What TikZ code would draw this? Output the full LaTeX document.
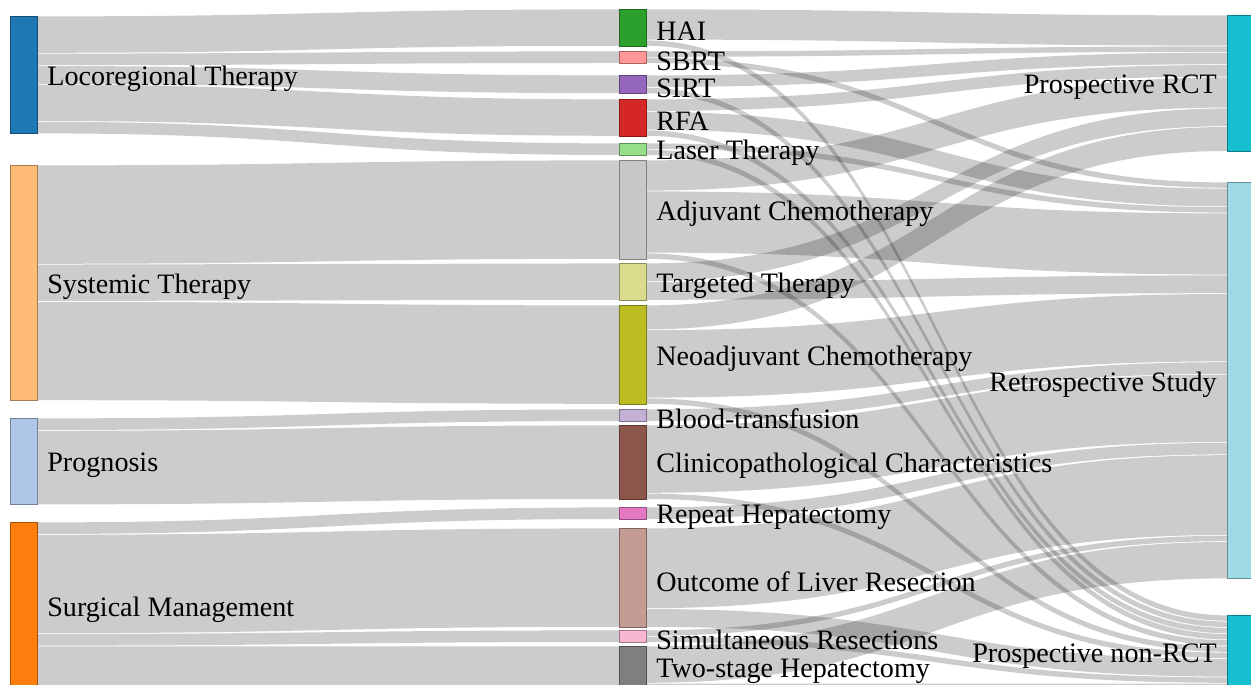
\documentclass[tikz,border=0pt]{standalone}
\usepackage{fontspec}
\setmainfont{Liberation Serif}
\usetikzlibrary{positioning, calc}

\definecolor{locoC}{HTML}{1F77B4}
\definecolor{systC}{HTML}{FFBB78}
\definecolor{prognC}{HTML}{AEC7E8}
\definecolor{surgC}{HTML}{FF7F0E}
\definecolor{haiC}{HTML}{2CA02C}
\definecolor{sbrtC}{HTML}{FF9896}
\definecolor{sirtC}{HTML}{9467BD}
\definecolor{rfaC}{HTML}{D62728}
\definecolor{laserC}{HTML}{98DF8A}
\definecolor{adjC}{HTML}{C7C7C7}
\definecolor{targC}{HTML}{DBDB8D}
\definecolor{neoC}{HTML}{BCBD22}
\definecolor{bloodC}{HTML}{C5B0D5}
\definecolor{clinC}{HTML}{8C564B}
\definecolor{repC}{HTML}{E377C2}
\definecolor{outcC}{HTML}{C49C94}
\definecolor{simulC}{HTML}{F7B6D2}
\definecolor{twostC}{HTML}{7F7F7F}
\definecolor{rctC}{HTML}{17BECF}
\definecolor{retroC}{HTML}{9EDAE5}

\pgfdeclarelayer{bg}
\pgfsetlayers{bg,main}

% source, offset, target, offset, width (in study counts)
\newcommand{\flow}[5]{%
  \begin{pgfonlayer}{bg}
  \coordinate (s0) at ($(#1.north east)+(0,{#2*6.2+0.4})$);
  \coordinate (s1) at ($(#1.north east)+(0,{(#2+#5)*6.2-0.4})$);
  \coordinate (t0) at ($(#3.north west)+(0,{#4*6.2+0.4})$);
  \coordinate (t1) at ($(#3.north west)+(0,{(#4+#5)*6.2-0.4})$);
  \coordinate (mx) at ($(s0)!.5!(t0)$);
  \fill[link] (s0) .. controls (mx |- s0) and (mx |- t0) .. (t0) -- (t1)
    .. controls (mx |- t1) and (mx |- s1) .. (s1) -- cycle;
  \end{pgfonlayer}}

\begin{document}
\begin{tikzpicture}[
  x=0.02cm, y=-0.02cm,
  bar/.style={fill=#1, draw=#1!65!black, line width=0.5pt, minimum width=0.54cm, inner sep=0pt, outer sep=0pt, anchor=north west},
  val/.style={minimum height=#1*0.124cm},
  lbl/.style={font=\fontsize{16}{19}\selectfont, inner sep=0pt, yshift=-0.08cm},
  link/.style={fill=black, fill opacity=0.2}
]
\clip (0,0) rectangle (1251,685);

\node[bar=locoC, val=19]  (loco)  at (10,16) {};
\node[bar=systC, val=38]  (syst)  at (10,165) {};
\node[bar=prognC, val=14] (progn) at (10,418) {};
\node[bar=surgC, val=27]  (surg)  at (10,522) {};

\node[bar=haiC, val=6]    (hai)   at (619,9) {};
\node[bar=sbrtC, val=2]   (sbrt)  at (619,51) {};
\node[bar=sirtC, val=3]   (sirt)  at (619,75) {};
\node[bar=rfaC, val=6]    (rfa)   at (619,99) {};
\node[bar=laserC, val=2]  (laser) at (619,143) {};
\node[bar=adjC, val=16]   (adj)   at (619,160) {};
\node[bar=targC, val=6]   (targ)  at (619,263) {};
\node[bar=neoC, val=16]   (neo)   at (619,305) {};
\node[bar=bloodC, val=2]  (blood) at (619,409) {};
\node[bar=clinC, val=12]  (clin)  at (619,425) {};
\node[bar=repC, val=2]    (rep)   at (619,507) {};
\node[bar=outcC, val=16]  (outc)  at (619,528) {};
\node[bar=simulC, val=2]  (simul) at (619,630) {};
\node[bar=twostC, val=7]  (twost) at (619,646) {};

\node[bar=rctC, val=22]   (rct)    at (1227,15) {};
\node[bar=retroC, val=64] (retro)  at (1227,182) {};
\node[bar=rctC, val=12]   (nonrct) at (1227,615) {};

\node[lbl, right=0.2cm of loco]  (loco-l)  {Locoregional Therapy};
\node[lbl, right=0.2cm of syst]  (syst-l)  {Systemic Therapy};
\node[lbl, right=0.2cm of progn] (progn-l) {Prognosis};
\node[lbl, right=0.2cm of surg]  (surg-l)  {Surgical Management};
\node[lbl, right=0.2cm of hai]   (hai-l)   {HAI};
\node[lbl, right=0.2cm of sbrt]  (sbrt-l)  {SBRT};
\node[lbl, right=0.2cm of sirt]  (sirt-l)  {SIRT};
\node[lbl, right=0.2cm of rfa]   (rfa-l)   {RFA};
\node[lbl, right=0.2cm of laser] (laser-l) {Laser Therapy};
\node[lbl, right=0.2cm of adj]   (adj-l)   {Adjuvant Chemotherapy};
\node[lbl, right=0.2cm of targ]  (targ-l)  {Targeted Therapy};
\node[lbl, right=0.2cm of neo]   (neo-l)   {Neoadjuvant Chemotherapy};
\node[lbl, right=0.2cm of blood] (blood-l) {Blood-transfusion};
\node[lbl, right=0.2cm of clin]  (clin-l)  {Clinicopathological Characteristics};
\node[lbl, right=0.2cm of rep]   (rep-l)   {Repeat Hepatectomy};
\node[lbl, right=0.2cm of outc]  (outc-l)  {Outcome of Liver Resection};
\node[lbl, right=0.2cm of simul] (simul-l) {Simultaneous Resections};
\node[lbl, right=0.2cm of twost] (twost-l) {Two-stage Hepatectomy};
\node[lbl, left=0.2cm of rct]    (rct-l)    {Prospective RCT};
\node[lbl, left=0.2cm of retro]  (retro-l)  {Retrospective Study};
\node[lbl, left=0.2cm of nonrct] (nonrct-l) {Prospective non-RCT};

\flow{loco}{0}{hai}{0}{6}
\flow{loco}{6}{sbrt}{0}{2}
\flow{loco}{8}{sirt}{0}{3}
\flow{loco}{11}{rfa}{0}{6}
\flow{loco}{17}{laser}{0}{2}
\flow{syst}{0}{adj}{0}{16}
\flow{syst}{16}{targ}{0}{6}
\flow{syst}{22}{neo}{0}{16}
\flow{progn}{0}{blood}{0}{2}
\flow{progn}{2}{clin}{0}{12}
\flow{surg}{0}{rep}{0}{2}
\flow{surg}{2}{outc}{0}{16}
\flow{surg}{18}{simul}{0}{2}
\flow{surg}{20}{twost}{0}{7}

\flow{hai}{0}{rct}{0}{5}
\flow{hai}{5}{nonrct}{0}{1}
\flow{sbrt}{0}{rct}{5}{1}
\flow{sbrt}{1}{retro}{0}{1}
\flow{sirt}{0}{rct}{6}{2}
\flow{sirt}{2}{nonrct}{1}{1}
\flow{rfa}{0}{rct}{8}{2}
\flow{rfa}{2}{retro}{1}{3}
\flow{rfa}{5}{nonrct}{2}{1}
\flow{laser}{0}{retro}{4}{1}
\flow{laser}{1}{nonrct}{3}{1}
\flow{adj}{0}{rct}{10}{5}
\flow{adj}{5}{retro}{5}{10}
\flow{adj}{15}{nonrct}{4}{1}
\flow{targ}{0}{rct}{15}{3}
\flow{targ}{3}{retro}{15}{3}
\flow{neo}{0}{rct}{18}{4}
\flow{neo}{4}{retro}{18}{11}
\flow{neo}{15}{nonrct}{5}{1}
\flow{blood}{0}{retro}{29}{2}
\flow{clin}{0}{retro}{31}{11}
\flow{clin}{11}{nonrct}{6}{1}
\flow{rep}{0}{retro}{42}{2}
\flow{outc}{0}{retro}{44}{13}
\flow{outc}{13}{nonrct}{7}{3}
\flow{simul}{0}{retro}{57}{1}
\flow{simul}{1}{nonrct}{10}{1}
\flow{twost}{0}{retro}{58}{6}
\flow{twost}{6}{nonrct}{11}{1}
\end{tikzpicture}
\end{document}
